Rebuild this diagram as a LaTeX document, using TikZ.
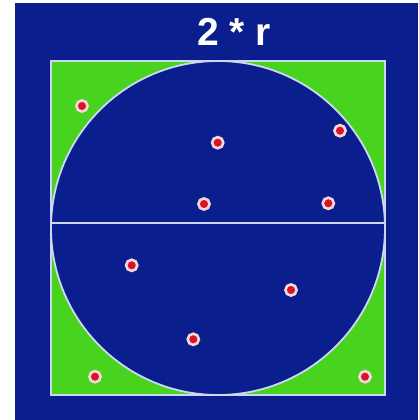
\documentclass[tikz,border=0pt]{standalone}
\usepackage{fontspec}
\setmainfont{Liberation Sans}
\definecolor{bgblue}{RGB}{10,30,142}
\definecolor{sqgreen}{RGB}{72,212,30}
\definecolor{rimline}{RGB}{205,215,245}
\definecolor{dotred}{RGB}{215,20,40}
\definecolor{dotring}{RGB}{245,215,215}
\begin{document}
\begin{tikzpicture}[x=1pt,y=-1pt]
		\tikzstyle{title} = [text=white,font=\bfseries\fontsize{39}{39}\selectfont]
		\tikzstyle{sample} = [fill=dotred,draw=dotring,line width=2.6pt]
		\useasboundingbox (0,0) rectangle (418,420);
		\fill[white] (0,0) rectangle (418,420);
		\fill[bgblue] (15,3) rectangle (418,420);
		\draw[fill=sqgreen,draw=rimline,line width=1.8pt] (51,61) rectangle (385,395);
		\draw[fill=bgblue,draw=rimline,line width=1.8pt] (218,228) circle (167);
		\draw[rimline,line width=1.8pt] (51,222.7) -- (385,222.7);

		\foreach \px/\py in {82/106, 217.7/142.7, 340/130.7, 204/204, 328.3/203.3,
			131.7/265.3, 291/290, 193.3/339.3, 95/376.7, 365/376.7}
			\draw[sample] (\px,\py) circle (5.6);

		\node[title] (diam) at (234,32) {2 * r};
	\end{tikzpicture}
\end{document}
